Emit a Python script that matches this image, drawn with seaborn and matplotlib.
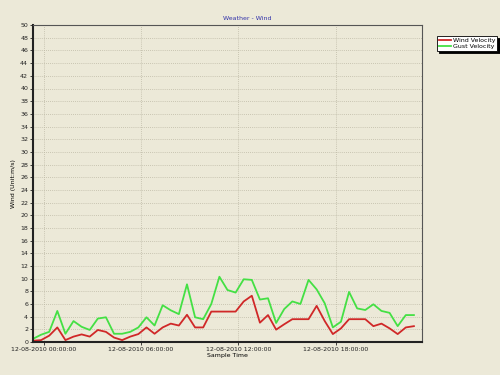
import pandas as pd
import numpy as np
import matplotlib
matplotlib.use('Agg')
import matplotlib.pyplot as plt
import matplotlib.dates as mdates
import seaborn as sns

# sample times, every 30 min
times = pd.date_range('2010-08-11 23:20:00', periods=48, freq='30min')

wind_velocity = [0.2, 0.3, 1.0, 2.3, 0.3, 0.85, 1.2, 0.85, 1.9, 1.6,
                 0.7, 0.3, 0.85, 1.25, 2.3, 1.3, 2.3, 2.9, 2.6, 4.3,
                 2.3, 2.3, 4.8, 4.8, 4.8, 4.8, 6.4, 7.3, 3.05, 4.25,
                 1.95, 2.8, 3.6, 3.6, 3.6, 5.7, 3.3, 1.25, 2.15, 3.6,
                 3.6, 3.6, 2.5, 2.9, 2.15, 1.25, 2.3, 2.5]
gust_velocity = [0.5, 1.15, 1.6, 4.9, 1.3, 3.3, 2.4, 1.9, 3.7, 3.9,
                 1.3, 1.3, 1.6, 2.3, 3.9, 2.6, 5.8, 5.0, 4.4, 9.1,
                 3.9, 3.6, 6.0, 10.3, 8.2, 7.8, 9.9, 9.8, 6.7, 6.9,
                 3.0, 5.2, 6.4, 6.0, 9.8, 8.3, 6.1, 2.3, 3.2, 7.9,
                 5.3, 5.05, 5.95, 4.9, 4.6, 2.5, 4.25, 4.25]

series_names = ['Wind Velocity', 'Gust Velocity']
colors = ['#d02828', '#44e044']

df = pd.concat([
    pd.DataFrame({'time': times, 'value': wind_velocity, 'series': series_names[0]}),
    pd.DataFrame({'time': times, 'value': gust_velocity, 'series': series_names[1]}),
])

bg = '#ece9d8'
fig = plt.figure(figsize=(5, 3.75), dpi=100, facecolor=bg)
ax = fig.add_axes([0.066, 0.088, 0.778, 0.845])
ax.set_facecolor(bg)

sns.lineplot(data=df, x='time', y='value', hue='series', palette=colors,
             linewidth=1.3, ax=ax, legend=True)

ax.set_ylim(0, 50)
ax.set_yticks(np.arange(0, 51, 2))
ax.set_xlim(pd.Timestamp('2010-08-11 23:20:00'), pd.Timestamp('2010-08-12 23:20:00'))
ax.xaxis.set_major_locator(mdates.HourLocator(byhour=[0, 6, 12, 18]))
ax.xaxis.set_major_formatter(mdates.DateFormatter('%d-%m-%Y %H:%M:%S'))
ax.tick_params(labelsize=4.5, length=2, width=0.6, pad=1.5, colors='#222222')

ax.grid(True, color='#bdb9a6', linestyle=(0, (1, 1.5)), linewidth=0.6)
ax.set_axisbelow(True)

for s in ['left', 'bottom']:
    ax.spines[s].set_linewidth(1.5)
    ax.spines[s].set_color('#222222')
for s in ['top', 'right']:
    ax.spines[s].set_linewidth(0.8)
    ax.spines[s].set_color('#555555')

fig.text(0.494, 0.947, 'Weather - Wind', fontsize=4.5, color='#3333aa', ha='center')
ax.set_xlabel('Sample Time', fontsize=4.5, labelpad=1)
ax.set_ylabel('Wind (Unit:m/s)', fontsize=4.5, labelpad=3)

leg = ax.legend(loc='upper left', bbox_to_anchor=(1.03, 0.975), fontsize=4.5,
                frameon=True, shadow={'color': 'black', 'alpha': 1, 'ox': 1.5, 'oy': -1.5},
                fancybox=False, handlelength=2,
                borderpad=0.3, labelspacing=0.1, handletextpad=0.3)
leg.get_frame().set_edgecolor('#000000')
leg.get_frame().set_linewidth(0.6)
leg.get_frame().set_facecolor('white')

fig.savefig('out.png', dpi=100, facecolor=bg)
